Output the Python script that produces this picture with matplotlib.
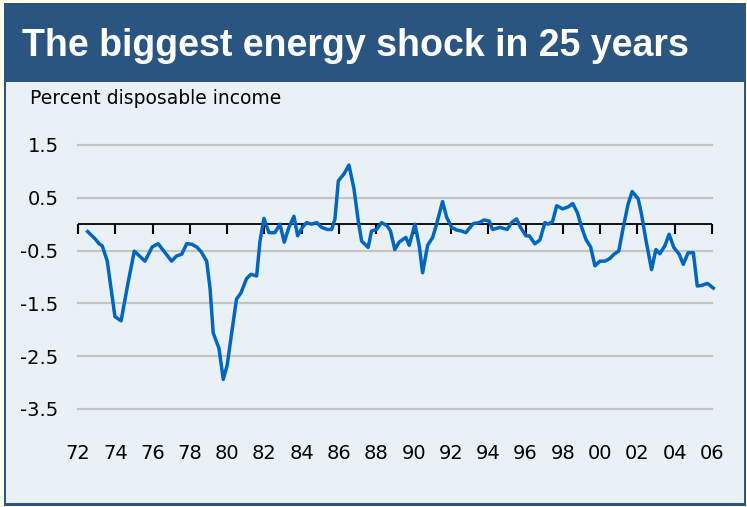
import matplotlib
matplotlib.use("Agg")
import matplotlib.pyplot as plt
from matplotlib.patches import Rectangle

# energy balance, percent of disposable income
years = [1972.52, 1972.95, 1973.13, 1973.30, 1973.57, 1973.77, 1973.98, 1974.31,
         1974.70, 1975.02, 1975.59, 1975.98, 1976.30, 1977.02, 1977.29, 1977.56,
         1977.83, 1978.10, 1978.36, 1978.60, 1978.90, 1979.08, 1979.25, 1979.56,
         1979.79, 1980.00, 1980.24, 1980.50, 1980.74, 1981.04, 1981.27, 1981.58,
         1981.76, 1981.97, 1982.24, 1982.56, 1982.83, 1983.06, 1983.31, 1983.58,
         1983.78, 1984.03, 1984.26, 1984.53, 1984.80, 1985.07, 1985.37, 1985.60,
         1985.78, 1985.96, 1986.26, 1986.53, 1986.80, 1987.03, 1987.21, 1987.56,
         1987.74, 1988.01, 1988.28, 1988.58, 1988.76, 1988.99, 1989.22, 1989.58,
         1989.76, 1990.07, 1990.30, 1990.48, 1990.75, 1991.02, 1991.23, 1991.55,
         1991.77, 1992.04, 1992.30, 1992.57, 1992.80, 1993.19, 1993.52, 1993.77,
         1994.05, 1994.23, 1994.63, 1995.02, 1995.25, 1995.52, 1995.73, 1996.02,
         1996.20, 1996.50, 1996.77, 1997.04, 1997.22, 1997.45, 1997.67, 1998.00,
         1998.30, 1998.53, 1998.78, 1999.01, 1999.24, 1999.49, 1999.72, 1999.99,
         2000.26, 2000.52, 2000.74, 2001.00, 2001.24, 2001.50, 2001.72, 2002.04,
         2002.22, 2002.45, 2002.76, 2002.99, 2003.20, 2003.47, 2003.70, 2003.95,
         2004.24, 2004.46, 2004.72, 2005.00, 2005.21, 2005.45, 2005.75, 2006.07]
values = [-0.14, -0.29, -0.37, -0.41, -0.70, -1.21, -1.75, -1.83,
          -1.08, -0.51, -0.70, -0.43, -0.37, -0.70, -0.60, -0.57,
          -0.37, -0.38, -0.43, -0.52, -0.70, -1.21, -2.06, -2.35,
          -2.94, -2.67, -2.06, -1.42, -1.30, -1.03, -0.95, -0.98,
          -0.32, 0.11, -0.16, -0.16, 0.00, -0.34, -0.06, 0.15,
          -0.22, -0.06, 0.03, 0.00, 0.03, -0.06, -0.10, -0.10,
          0.10, 0.82, 0.95, 1.12, 0.67, 0.06, -0.32, -0.44,
          -0.13, -0.10, 0.03, -0.03, -0.13, -0.48, -0.34, -0.25,
          -0.40, 0.00, -0.41, -0.92, -0.40, -0.25, 0.00, 0.43,
          0.13, -0.06, -0.11, -0.13, -0.16, 0.01, 0.03, 0.08,
          0.06, -0.10, -0.06, -0.10, 0.03, 0.10, -0.06, -0.22,
          -0.22, -0.37, -0.30, 0.03, 0.00, 0.05, 0.35, 0.29,
          0.33, 0.39, 0.22, -0.06, -0.29, -0.43, -0.79, -0.70,
          -0.70, -0.65, -0.57, -0.51, -0.06, 0.38, 0.62, 0.48,
          0.19, -0.29, -0.86, -0.48, -0.56, -0.41, -0.19, -0.44,
          -0.57, -0.76, -0.54, -0.54, -1.17, -1.16, -1.12, -1.21]

tick_years = list(range(1972, 2007, 2))
tick_labels = ["72", "74", "76", "78", "80", "82", "84", "86", "88",
               "90", "92", "94", "96", "98", "00", "02", "04", "06"]
y_ticks = [1.5, 0.5, -0.5, -1.5, -2.5, -3.5]

W, H = 747, 507
navy = "#2a5580"
panel = "#eaf1f6"

fig = plt.figure(figsize=(W / 100, H / 100), dpi=100, facecolor="#ffffea")

def px(x0, y0, x1, y1):
    # pixel box (top-left origin) -> figure rect
    return (x0 / W, 1 - y1 / H, (x1 - x0) / W, (y1 - y0) / H)

l, b, w, h = px(4, 3, 746, 506)
fig.patches.append(Rectangle((l, b), w, h, transform=fig.transFigure,
                             facecolor=navy, edgecolor="none", zorder=-3))
l, b, w, h = px(6, 82, 744, 503)
fig.patches.append(Rectangle((l, b), w, h, transform=fig.transFigure,
                             facecolor=panel, edgecolor="none", zorder=-2))

fig.text(22 / W, 1 - 46 / H, "The biggest energy shock in 25 years",
         color="white", fontsize=27, fontweight="bold",
         family="Liberation Sans", va="center", ha="left")
fig.text(30 / W, 1 - 98 / H, "Percent disposable income",
         color="black", fontsize=13.5, family="DejaVu Sans",
         va="center", ha="left")

ax = fig.add_axes(px(78, 145, 712, 409))
ax.set_zorder(1)
ax.set_facecolor("none")
ax.set_xlim(1972, 2006)
ax.set_ylim(-3.5, 1.5)
for s in ax.spines.values():
    s.set_visible(False)

for yv in y_ticks:
    ax.axhline(yv, color="#c4c4c4", lw=1.6, zorder=1, clip_on=False)

ax.axhline(0, color="black", lw=1.3, zorder=2)
ax.plot(tick_years, [0] * len(tick_years), ls="none", marker=3,
        ms=7, mew=1.5, color="black", zorder=2, clip_on=False)

ax.plot(years, values, color="#0066c0", lw=2.5, zorder=3, clip_on=False,
        solid_joinstyle="round")

ax.set_yticks(y_ticks)
ax.set_yticklabels([str(v) for v in y_ticks])
ax.set_xticks(tick_years)
ax.set_xticklabels(tick_labels)
ax.tick_params(axis="y", length=0, pad=14, labelsize=14)
ax.tick_params(axis="x", length=0, pad=25, labelsize=14)
for t in ax.get_xticklabels() + ax.get_yticklabels():
    t.set_fontfamily("DejaVu Sans")

fig.savefig("out.png", dpi=100, facecolor=fig.get_facecolor())
